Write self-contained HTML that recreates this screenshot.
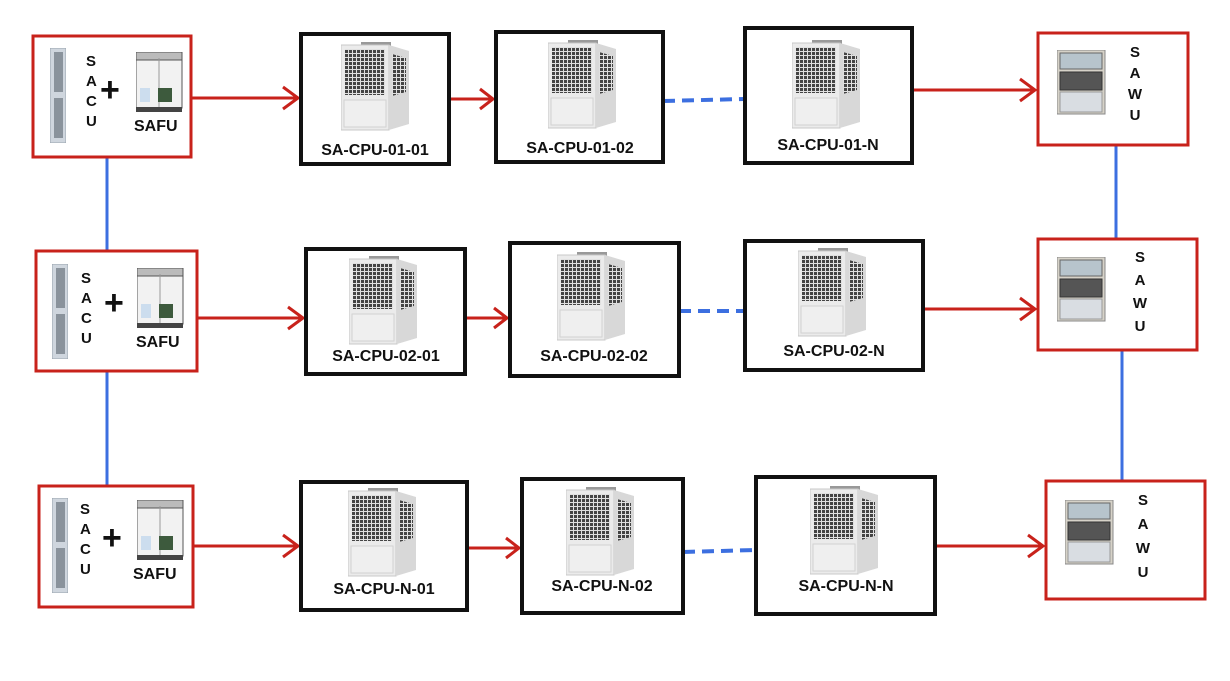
<!DOCTYPE html>
<html><head><meta charset="utf-8"><style>
body{margin:0;background:#fff;}
svg text{font-family:"Liberation Sans",sans-serif;font-weight:bold;fill:#111;}
</style></head><body>
<svg width="1230" height="676" viewBox="0 0 1230 676" xmlns="http://www.w3.org/2000/svg">
<defs>
<pattern id="grid" width="4" height="4" patternUnits="userSpaceOnUse"><rect width="4" height="4" fill="#e0e0e0"/><rect width="3" height="3" fill="#444"/></pattern>
<symbol id="cpu" viewBox="0 0 70 90" width="70" height="90">
<rect x="20" y="0" width="30" height="4" fill="#999"/>
<rect x="0" y="3" width="48" height="85" fill="#ebebeb" stroke="#c8c8c8"/>
<polygon points="48,3 68,9 68,82 48,88" fill="#d8d8d8"/>
<rect x="4" y="7" width="40" height="46" fill="url(#grid)"/>
<polygon points="51,12 65,16 65,50 51,54" fill="url(#grid)"/>
<rect x="3" y="58" width="42" height="27" fill="#efefef" stroke="#d2d2d2"/>
</symbol>
<symbol id="sacu" viewBox="0 0 16 95" width="16" height="95">
<rect x="0" y="0" width="16" height="95" fill="#cfd6de" stroke="#9aa4ae"/>
<rect x="4" y="4" width="9" height="40" fill="#8a939c"/>
<rect x="4" y="50" width="9" height="40" fill="#8a939c"/>
</symbol>
<symbol id="safu" viewBox="0 0 48 60" width="48" height="60">
<rect x="0" y="6" width="46" height="50" fill="#f2f2f2" stroke="#555"/>
<rect x="0" y="0" width="46" height="8" fill="#bbb" stroke="#555"/>
<line x1="23" y1="6" x2="23" y2="56" stroke="#999"/>
<rect x="4" y="36" width="10" height="14" fill="#cde"/>
<rect x="22" y="36" width="14" height="14" fill="#3d5a3d"/>
<rect x="0" y="55" width="46" height="5" fill="#444"/>
</symbol>
<symbol id="sawu" viewBox="0 0 50 65" width="50" height="65">
<rect x="0" y="0" width="48" height="64" fill="#d6d2c8" stroke="#888"/>
<rect x="3" y="3" width="42" height="16" fill="#b7c4cc" stroke="#666"/>
<rect x="3" y="22" width="42" height="18" fill="#555" stroke="#333"/>
<rect x="3" y="42" width="42" height="20" fill="#d9dde2" stroke="#999"/>
</symbol>
</defs>

<g stroke="#3c6fe0" stroke-width="3">
<line x1="107" y1="157" x2="107" y2="250"/>
<line x1="107" y1="371" x2="107" y2="485"/>
<line x1="1116" y1="145" x2="1116" y2="238"/>
<line x1="1122" y1="350" x2="1122" y2="480"/>
</g>
<g stroke="#3c6fe0" stroke-width="4" stroke-dasharray="12,7">
<line x1="663" y1="101" x2="744" y2="99"/>
<line x1="679" y1="311" x2="744" y2="311"/>
<line x1="683" y1="552" x2="755" y2="550"/>
</g>
<g stroke="#c8221b" stroke-width="3" fill="none" stroke-linejoin="miter">
<line x1="191" y1="98" x2="298" y2="98"/><polyline points="283,87 298,98 283,109"/>
<line x1="449" y1="99" x2="493" y2="99"/><polyline points="480,89 493,99 480,109"/>
<line x1="912" y1="90" x2="1035" y2="90"/><polyline points="1020,79 1035,90 1020,101"/>
<line x1="197" y1="318" x2="303" y2="318"/><polyline points="288,307 303,318 288,329"/>
<line x1="465" y1="318" x2="507" y2="318"/><polyline points="494,308 507,318 494,328"/>
<line x1="923" y1="309" x2="1035" y2="309"/><polyline points="1020,298 1035,309 1020,320"/>
<line x1="193" y1="546" x2="298" y2="546"/><polyline points="283,535 298,546 283,557"/>
<line x1="467" y1="548" x2="519" y2="548"/><polyline points="506,538 519,548 506,558"/>
<line x1="935" y1="546" x2="1043" y2="546"/><polyline points="1028,535 1043,546 1028,557"/>
</g>

<g fill="#fff" stroke="#c8221b" stroke-width="3">
<rect x="33" y="36" width="158" height="121"/>
<rect x="36" y="251" width="161" height="120"/>
<rect x="39" y="486" width="154" height="121"/>
</g>
<g>
<use href="#sacu" x="50" y="48"/><use href="#safu" x="136" y="52"/>
<text x="86" y="66" font-size="15">S</text><text x="86" y="86" font-size="15">A</text><text x="86" y="106" font-size="15">C</text><text x="86" y="126" font-size="15">U</text>
<text x="100" y="101" font-size="34">+</text><text x="134" y="131" font-size="16">SAFU</text>

<use href="#sacu" x="52" y="264"/><use href="#safu" x="137" y="268"/>
<text x="81" y="283" font-size="15">S</text><text x="81" y="303" font-size="15">A</text><text x="81" y="323" font-size="15">C</text><text x="81" y="343" font-size="15">U</text>
<text x="104" y="314" font-size="34">+</text><text x="136" y="347" font-size="16">SAFU</text>

<use href="#sacu" x="52" y="498"/><use href="#safu" x="137" y="500"/>
<text x="80" y="514" font-size="15">S</text><text x="80" y="534" font-size="15">A</text><text x="80" y="554" font-size="15">C</text><text x="80" y="574" font-size="15">U</text>
<text x="102" y="549" font-size="34">+</text><text x="133" y="579" font-size="16">SAFU</text>
</g>

<g fill="#fff" stroke="#111" stroke-width="4">
<rect x="301" y="34" width="148" height="130"/>
<rect x="496" y="32" width="167" height="130"/>
<rect x="745" y="28" width="167" height="135"/>
<rect x="306" y="249" width="159" height="125"/>
<rect x="510" y="243" width="169" height="133"/>
<rect x="745" y="241" width="178" height="129"/>
<rect x="301" y="482" width="166" height="128"/>
<rect x="522" y="479" width="161" height="134"/>
<rect x="756" y="477" width="179" height="137"/>
</g>
<g font-size="16" text-anchor="middle">
<use href="#cpu" x="341" y="42"/><text x="375" y="155">SA-CPU-01-01</text>
<use href="#cpu" x="548" y="40"/><text x="580" y="153">SA-CPU-01-02</text>
<use href="#cpu" x="792" y="40"/><text x="828" y="150">SA-CPU-01-N</text>
<use href="#cpu" x="349" y="256"/><text x="386" y="361">SA-CPU-02-01</text>
<use href="#cpu" x="557" y="252"/><text x="594" y="361">SA-CPU-02-02</text>
<use href="#cpu" x="798" y="248"/><text x="834" y="356">SA-CPU-02-N</text>
<use href="#cpu" x="348" y="488"/><text x="384" y="594">SA-CPU-N-01</text>
<use href="#cpu" x="566" y="487"/><text x="602" y="591">SA-CPU-N-02</text>
<use href="#cpu" x="810" y="486"/><text x="846" y="591">SA-CPU-N-N</text>
</g>

<g fill="#fff" stroke="#c8221b" stroke-width="3">
<rect x="1038" y="33" width="150" height="112"/>
<rect x="1038" y="239" width="159" height="111"/>
<rect x="1046" y="481" width="159" height="118"/>
</g>
<g font-size="15" text-anchor="middle">
<use href="#sawu" x="1057" y="50"/>
<text x="1135" y="57">S</text><text x="1135" y="78">A</text><text x="1135" y="99">W</text><text x="1135" y="120">U</text>
<use href="#sawu" x="1057" y="257"/>
<text x="1140" y="262">S</text><text x="1140" y="285">A</text><text x="1140" y="308">W</text><text x="1140" y="331">U</text>
<use href="#sawu" x="1065" y="500"/>
<text x="1143" y="505">S</text><text x="1143" y="529">A</text><text x="1143" y="553">W</text><text x="1143" y="577">U</text>
</g>
</svg>
</body></html>
